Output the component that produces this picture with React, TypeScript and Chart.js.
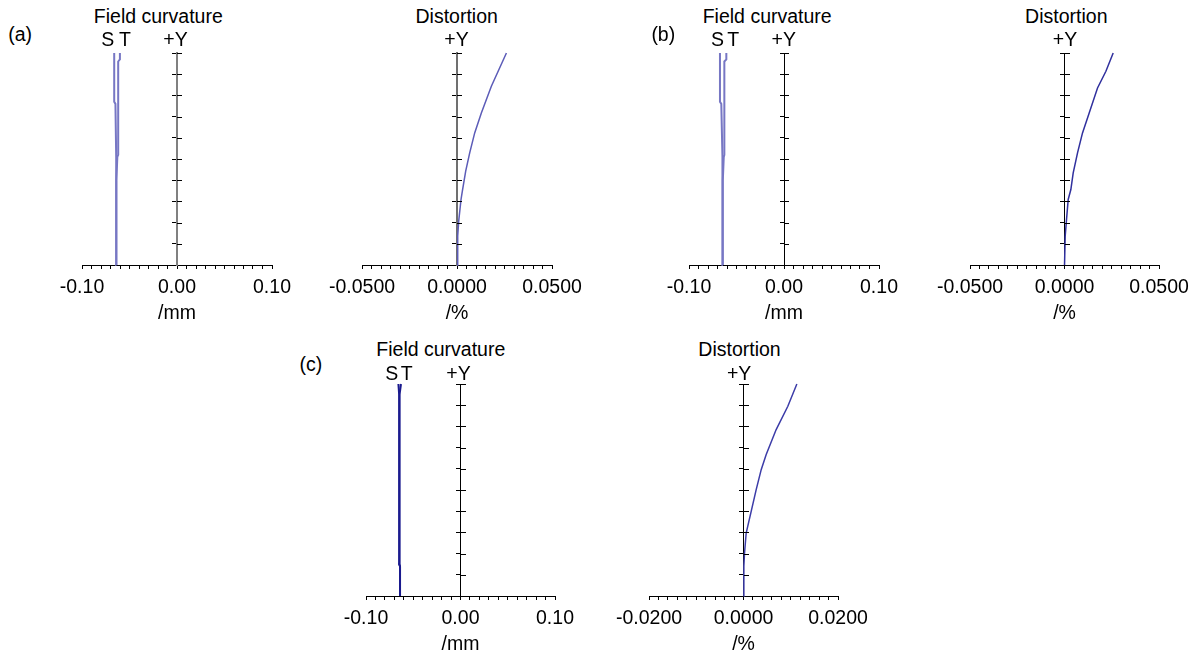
import React, { useEffect, useRef } from 'react';
import { Chart, registerables } from 'chart.js';

Chart.register(...registerables);

const FONT_FAMILY = "'Liberation Sans', Arial, Helvetica, sans-serif";
const FONT_SIZE = 19.5;

// ---- normalized field height (vertical axis) ----
const fieldMin = 0;
const fieldMax = 1;
const fieldStep = 0.1;

// ---- tick labels ----
const fieldTickValues = [-0.1, 0, 0.1];
const fieldTickLabels = ['-0.10', '0.00', '0.10'];
const distTickValuesAB = [-0.05, 0, 0.05];
const distTickLabelsAB = ['-0.0500', '0.0000', '0.0500'];
const distTickValuesC = [-0.02, 0, 0.02];
const distTickLabelsC = ['-0.0200', '0.0000', '0.0200'];

// ---- (a) field curvature (mm) ----
const aFieldSY = [0, 0.40, 0.51, 0.76, 0.77, 1.0];
const aFieldSX = [-0.0638, -0.0638, -0.0642, -0.0648, -0.0661, -0.0661];
const aFieldTY = [0, 0.40, 0.51, 0.52, 0.96, 0.97, 1.0];
const aFieldTX = [-0.0638, -0.0638, -0.0628, -0.0619, -0.0619, -0.0601, -0.0601];

// ---- (a) distortion (%) ----
const aDistY = [0, 0.137, 0.207, 0.309, 0.349, 0.443, 0.529, 0.623, 0.717, 0.843, 1.0];
const aDistX = [0, 0.00035, 0.00088, 0.0021, 0.0028, 0.00456, 0.00667, 0.0093, 0.0128, 0.01807, 0.026];

// ---- (b) field curvature (mm) ----
const bFieldSY = [0, 0.40, 0.51, 0.76, 0.77, 1.0];
const bFieldSX = [-0.0644, -0.0644, -0.0652, -0.0660, -0.0674, -0.0674];
const bFieldTY = [0, 0.40, 0.51, 0.52, 0.96, 0.97, 1.0];
const bFieldTX = [-0.0644, -0.0644, -0.0634, -0.0628, -0.0628, -0.0607, -0.0607];

// ---- (b) distortion (%) ----
const bDistY = [0, 0.137, 0.215, 0.309, 0.356, 0.435, 0.529, 0.623, 0.717, 0.835, 0.914, 1.0];
const bDistX = [0, 0.00035, 0.00106, 0.00194, 0.00335, 0.00459, 0.00688, 0.00952, 0.01305, 0.01746, 0.0219, 0.02575];

// ---- (c) field curvature (mm) ----
const cFieldSY = [0, 0.14, 0.15, 0.95, 1.0];
const cFieldSX = [-0.0640, -0.0640, -0.0648, -0.0649, -0.0657];
const cFieldTY = [0, 0.14, 0.15, 0.95, 1.0];
const cFieldTX = [-0.0640, -0.0640, -0.0646, -0.0645, -0.0630];

// ---- (c) distortion (%) ----
const cDistY = [0, 0.14, 0.203, 0.297, 0.352, 0.399, 0.502, 0.596, 0.667, 0.785, 0.895, 1.0];
const cDistX = [0, 0.00007, 0.00021, 0.00056, 0.00113, 0.00162, 0.00268, 0.00374, 0.0048, 0.00691, 0.00938, 0.01129];

const PADX = 40;
const PADT = 12;
const PADB = 4;
const AXIS_H = 60;

type Series = { xs: number[]; ys: number[]; color: string; width: number };
type Area = { left: number; top: number; width: number; height: number };

type PanelProps = {
  area: Area;
  xMin: number;
  xMax: number;
  xStep: number;
  tickValues: number[];
  tickLabels: string[];
  unit: string;
  series: Series[];
  axisColor: string;
  axisWidth: number;
};

const crossTicks = {
  id: 'crossTicks',
  afterDraw(chart: any) {
    const ys = chart.scales.y;
    const xs = chart.scales.x;
    if (!ys || !xs) return;
    const ctx = chart.ctx;
    const x0 = Math.round(xs.getPixelForValue(0));
    ctx.save();
    ctx.strokeStyle = '#000';
    ctx.lineWidth = 1;
    ctx.beginPath();
    ys.ticks.forEach((t: any) => {
      if (Math.abs(t.value) < 1e-9) return;
      const py = Math.round(ys.getPixelForValue(t.value)) + 0.5;
      ctx.moveTo(x0, py);
      ctx.lineTo(x0 + 5, py);
    });
    ctx.stroke();
    ctx.restore();
  },
};

function Panel(props: PanelProps) {
  const ref = useRef<HTMLCanvasElement | null>(null);
  const { area } = props;
  const cw = area.width + 2 * PADX;
  const ch = PADT + area.height + AXIS_H + PADB;

  useEffect(() => {
    const canvas = ref.current;
    if (!canvas) return;
    const font = { family: FONT_FAMILY, size: FONT_SIZE, lineHeight: 1.2 };
    const chart = new Chart(canvas, {
      type: 'scatter',
      data: {
        datasets: props.series.map((s) => ({
          data: s.xs.map((x, i) => ({ x, y: s.ys[i] })),
          showLine: true,
          borderColor: s.color,
          backgroundColor: s.color,
          borderWidth: s.width,
          pointRadius: 0,
          pointHoverRadius: 0,
          tension: 0,
          fill: false,
          clip: false as any,
        })),
      },
      options: {
        responsive: false,
        animation: false,
        events: [],
        layout: { padding: { left: PADX, right: PADX, top: PADT, bottom: PADB } },
        plugins: {
          legend: { display: false },
          tooltip: { enabled: false },
          title: { display: false },
        },
        scales: {
          x: {
            type: 'linear',
            position: 'bottom',
            min: props.xMin,
            max: props.xMax,
            ticks: {
              stepSize: props.xStep,
              autoSkip: false,
              maxRotation: 0,
              minRotation: 0,
              padding: 7,
              color: '#000',
              font,
              callback: (v: any) => {
                const i = props.tickValues.findIndex((t) => Math.abs(t - Number(v)) < props.xStep / 10);
                return i >= 0 ? props.tickLabels[i] : '';
              },
            },
            grid: {
              drawOnChartArea: false,
              drawTicks: true,
              tickLength: 4,
              tickColor: '#000',
              tickWidth: 1,
            },
            border: { display: true, color: '#000', width: 1 },
            title: {
              display: true,
              text: props.unit,
              color: '#000',
              font,
              padding: { top: 0, bottom: 0 },
            },
            afterFit: (s: any) => {
              s.height = AXIS_H;
            },
          },
          y: {
            type: 'linear',
            position: { x: 0 } as any,
            min: fieldMin,
            max: fieldMax,
            ticks: { stepSize: fieldStep, display: false },
            grid: {
              drawOnChartArea: false,
              drawTicks: true,
              tickLength: 4,
              tickColor: '#000',
              tickWidth: 1,
            },
            border: { display: true, color: props.axisColor, width: props.axisWidth },
          },
        },
      } as any,
      plugins: [crossTicks],
    });
    return () => chart.destroy();
  }, []);

  return (
    <canvas
      ref={ref}
      width={cw}
      height={ch}
      style={{
        position: 'absolute',
        left: area.left - PADX,
        top: area.top - PADT,
        width: cw,
        height: ch,
      }}
    />
  );
}

function Label({ x, y, text }: { x: number; y: number; text: string }) {
  return (
    <div
      style={{
        position: 'absolute',
        left: x,
        top: y,
        transform: 'translate(-50%, -50%)',
        fontFamily: FONT_FAMILY,
        fontSize: FONT_SIZE,
        lineHeight: `${FONT_SIZE}px`,
        whiteSpace: 'nowrap',
        color: '#000',
      }}
    >
      {text}
    </div>
  );
}

const lightBlue = '#7777c4';

export default function App() {
  useEffect(() => {
    document.body.style.margin = '0';
    document.body.style.background = '#fff';
  }, []);

  return (
    <div style={{ position: 'relative', width: 1195, height: 657, background: '#fff', overflow: 'hidden' }}>
      {/* (a) */}
      <Panel
        area={{ left: 82, top: 53, width: 190, height: 212 }}
        xMin={-0.1}
        xMax={0.1}
        xStep={0.01}
        tickValues={fieldTickValues}
        tickLabels={fieldTickLabels}
        unit="/mm"
        axisColor="#808080"
        axisWidth={2}
        series={[
          { xs: aFieldSX, ys: aFieldSY, color: lightBlue, width: 2 },
          { xs: aFieldTX, ys: aFieldTY, color: lightBlue, width: 2 },
        ]}
      />
      <Panel
        area={{ left: 362, top: 53, width: 190, height: 212 }}
        xMin={-0.05}
        xMax={0.05}
        xStep={0.005}
        tickValues={distTickValuesAB}
        tickLabels={distTickLabelsAB}
        unit="/%"
        axisColor="#707070"
        axisWidth={2}
        series={[{ xs: aDistX, ys: aDistY, color: '#5c5cb8', width: 1.5 }]}
      />
      {/* (b) */}
      <Panel
        area={{ left: 689, top: 53, width: 190, height: 212 }}
        xMin={-0.1}
        xMax={0.1}
        xStep={0.01}
        tickValues={fieldTickValues}
        tickLabels={fieldTickLabels}
        unit="/mm"
        axisColor="#000"
        axisWidth={1}
        series={[
          { xs: bFieldSX, ys: bFieldSY, color: lightBlue, width: 2 },
          { xs: bFieldTX, ys: bFieldTY, color: lightBlue, width: 2 },
        ]}
      />
      <Panel
        area={{ left: 970, top: 53, width: 189, height: 212 }}
        xMin={-0.05}
        xMax={0.05}
        xStep={0.005}
        tickValues={distTickValuesAB}
        tickLabels={distTickLabelsAB}
        unit="/%"
        axisColor="#000"
        axisWidth={1}
        series={[{ xs: bDistX, ys: bDistY, color: '#30309e', width: 1.5 }]}
      />
      {/* (c) */}
      <Panel
        area={{ left: 366, top: 384, width: 189, height: 212 }}
        xMin={-0.1}
        xMax={0.1}
        xStep={0.01}
        tickValues={fieldTickValues}
        tickLabels={fieldTickLabels}
        unit="/mm"
        axisColor="#000"
        axisWidth={1}
        series={[
          { xs: cFieldSX, ys: cFieldSY, color: '#1a1a8e', width: 2 },
          { xs: cFieldTX, ys: cFieldTY, color: '#1a1a8e', width: 2 },
        ]}
      />
      <Panel
        area={{ left: 649, top: 384, width: 189, height: 212 }}
        xMin={-0.02}
        xMax={0.02}
        xStep={0.002}
        tickValues={distTickValuesC}
        tickLabels={distTickLabelsC}
        unit="/%"
        axisColor="#000"
        axisWidth={1}
        series={[{ xs: cDistX, ys: cDistY, color: '#3c3ca8', width: 1.5 }]}
      />

      <Label x={158.3} y={16.5} text="Field curvature" />
      <Label x={20.2} y={35} text="(a)" />
      <Label x={107.8} y={40.3} text="S" />
      <Label x={125} y={40.3} text="T" />
      <Label x={175.5} y={40.3} text="+Y" />
      <Label x={456.7} y={16.7} text="Distortion" />
      <Label x={456.5} y={40.3} text="+Y" />

      <Label x={767.2} y={16.5} text="Field curvature" />
      <Label x={663.3} y={35} text="(b)" />
      <Label x={717.5} y={40.3} text="S" />
      <Label x={733.3} y={40.3} text="T" />
      <Label x={783.8} y={40.3} text="+Y" />
      <Label x={1066.3} y={16.7} text="Distortion" />
      <Label x={1065} y={40.3} text="+Y" />

      <Label x={440.8} y={350.3} text="Field curvature" />
      <Label x={310.8} y={364.5} text="(c)" />
      <Label x={391.7} y={373.7} text="S" />
      <Label x={406.7} y={373.7} text="T" />
      <Label x={458.5} y={373.7} text="+Y" />
      <Label x={739.5} y={350.3} text="Distortion" />
      <Label x={739.2} y={373.7} text="+Y" />
    </div>
  );
}
